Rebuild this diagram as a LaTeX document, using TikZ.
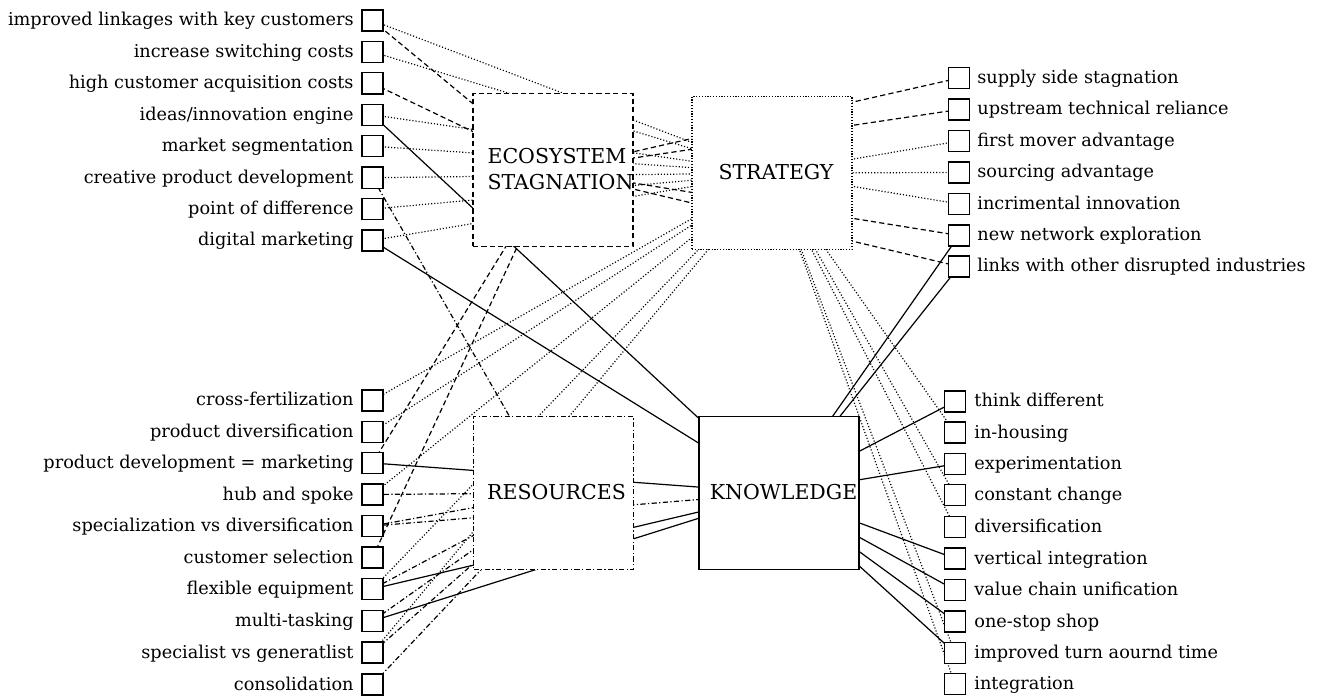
\documentclass[tikz,border=0pt]{standalone}
\usepackage{fontspec}
\setmainfont{DejaVu Serif}
\usetikzlibrary{backgrounds,calc}
\begin{document}
\begin{tikzpicture}[x=0.5pt,y=-0.5pt,
  tick/.style={draw, fill=white, line width=0.65pt, minimum size=10.6pt, inner sep=0pt},
  lbl/.style={font=\fontsize{8.85}{10}\selectfont, inner sep=0pt},
  hub/.style={draw, fill=white, line width=0.65pt, minimum width=80pt, minimum height=76.5pt, inner sep=0pt},
  hubtxt/.style={font=\fontsize{10.25}{13}\selectfont, align=left, inner sep=0pt},
  lnk/.style={line width=0.6pt},
  toS/.style={lnk, dash pattern=on 0.55pt off 1pt},
  toE/.style={lnk, dash pattern=on 2.6pt off 1.6pt},
  toR/.style={lnk, dash pattern=on 2.6pt off 1.2pt on 0.6pt off 1.2pt},
  toK/.style={lnk},
]
\useasboundingbox (0,0) rectangle (1320,699);

% ---------- the four central themes ----------
\node[hub, dash pattern=on 2.6pt off 1.6pt] (E) at (553,170) {};
\node[hub, dash pattern=on 0.6pt off 0.8pt] (S) at (772,173) {};
\node[hub, dash pattern=on 2.6pt off 1.2pt on 0.6pt off 1.2pt] (R) at (553.5,493) {};
\node[hub] (K) at (779,493) {};
\node[hubtxt] (Et) at ($(E.center)+(7.5,-1)$) {ECOSYSTEM\\STAGNATION};
\node[hubtxt] (St) at ($(S.center)+(4,-1)$) {STRATEGY};
\node[hubtxt] (Rt) at ($(R.center)+(3,-1)$) {RESOURCES};
\node[hubtxt] (Kt) at ($(K.center)+(4.5,-1)$) {KNOWLEDGE};

% ---------- upper left items ----------
\node[tick] (a1) at (372.5,20.5) {};  \node[lbl, anchor=base east] (ta1) at (354,26) {improved linkages with key customers};
\node[tick] (a2) at (372.5,51.9) {};  \node[lbl, anchor=base east] (ta2) at (354,57.4) {increase switching costs};
\node[tick] (a3) at (372.5,83.4) {};  \node[lbl, anchor=base east] (ta3) at (354,88.9) {high customer acquisition costs};
\node[tick] (a4) at (372.5,114.8) {}; \node[lbl, anchor=base east] (ta4) at (354,120.3) {ideas/innovation engine};
\node[tick] (a5) at (372.5,146.2) {}; \node[lbl, anchor=base east] (ta5) at (354,151.7) {market segmentation};
\node[tick] (a6) at (372.5,177.7) {}; \node[lbl, anchor=base east] (ta6) at (354,183.2) {creative product development};
\node[tick] (a7) at (372.5,209.1) {}; \node[lbl, anchor=base east] (ta7) at (354,214.6) {point of difference};
\node[tick] (a8) at (372.5,240.5) {}; \node[lbl, anchor=base east] (ta8) at (354,246) {digital marketing};

% ---------- lower left items ----------
\node[tick] (b1) at (372.5,400.5) {};  \node[lbl, anchor=base east] (tb1) at (354,406) {cross-fertilization};
\node[tick] (b2) at (372.5,432) {};    \node[lbl, anchor=base east] (tb2) at (354,437.5) {product diversification};
\node[tick] (b3) at (372.5,463) {};    \node[lbl, anchor=base east] (tb3) at (354,468.5) {product development = marketing};
\node[tick] (b4) at (372.5,494.5) {};  \node[lbl, anchor=base east] (tb4) at (354,500) {hub and spoke};
\node[tick] (b5) at (372.5,526) {};    \node[lbl, anchor=base east] (tb5) at (354,531.5) {specialization vs diversification};
\node[tick] (b6) at (372.5,557.5) {};  \node[lbl, anchor=base east] (tb6) at (354,563) {customer selection};
\node[tick] (b7) at (372.5,589) {};    \node[lbl, anchor=base east] (tb7) at (354,594.5) {flexible equipment};
\node[tick] (b8) at (372.5,621) {};    \node[lbl, anchor=base east] (tb8) at (354,626.5) {multi-tasking};
\node[tick] (b9) at (372.5,652.5) {};  \node[lbl, anchor=base east] (tb9) at (354,658) {specialist vs generatlist};
\node[tick] (b10) at (372.5,684.5) {}; \node[lbl, anchor=base east] (tb10) at (354,690) {consolidation};

% ---------- upper right items ----------
\node[tick] (c1) at (959,78) {};    \node[lbl, anchor=base west] (tc1) at (977,83.5) {supply side stagnation};
\node[tick] (c2) at (959,109.5) {}; \node[lbl, anchor=base west] (tc2) at (977,115) {upstream technical reliance};
\node[tick] (c3) at (959,141) {};   \node[lbl, anchor=base west] (tc3) at (977,146.5) {first mover advantage};
\node[tick] (c4) at (959,172.5) {}; \node[lbl, anchor=base west] (tc4) at (977,178) {sourcing advantage};
\node[tick] (c5) at (959,204) {};   \node[lbl, anchor=base west] (tc5) at (977,209.5) {incrimental innovation};
\node[tick] (c6) at (959,235.5) {}; \node[lbl, anchor=base west] (tc6) at (977,241) {new network exploration};
\node[tick] (c7) at (959,266.5) {}; \node[lbl, anchor=base west] (tc7) at (977,272) {links with other disrupted industries};

% ---------- lower right items ----------
\node[tick] (d1) at (955,401.5) {};  \node[lbl, anchor=base west] (td1) at (974,407) {think different};
\node[tick] (d2) at (955,432.5) {};  \node[lbl, anchor=base west] (td2) at (974,438) {in-housing};
\node[tick] (d3) at (955,464) {};    \node[lbl, anchor=base west] (td3) at (974,469.5) {experimentation};
\node[tick] (d4) at (955,495) {};    \node[lbl, anchor=base west] (td4) at (974,500.5) {constant change};
\node[tick] (d5) at (955,527) {};    \node[lbl, anchor=base west] (td5) at (974,532.5) {diversification};
\node[tick] (d6) at (955,558.5) {};  \node[lbl, anchor=base west] (td6) at (974,564) {vertical integration};
\node[tick] (d7) at (955,590) {};    \node[lbl, anchor=base west] (td7) at (974,595.5) {value chain unification};
\node[tick] (d8) at (955,621.5) {};  \node[lbl, anchor=base west] (td8) at (974,627) {one-stop shop};
\node[tick] (d9) at (955,653) {};    \node[lbl, anchor=base west] (td9) at (974,658.5) {improved turn aournd time};
\node[tick] (d10) at (955,684) {};   \node[lbl, anchor=base west] (td10) at (974,689.5) {integration};

% ---------- links, centre to centre, hidden behind the boxes ----------
\begin{pgfonlayer}{background}
  % strategy (dotted)
  \foreach \n in {a1,a2,a4,a5,a6,a7,a8,b1,b2,b4,b7,b9,c3,c4,c5,d2,d4,d5,d9,d10}
    \draw[toS] (\n.center) -- (S.center);
  % ecosystem stagnation (dashed)
  \foreach \n in {a1,a3,b3,b6,c1,c2,c6,c7}
    \draw[toE] (\n.center) -- (E.center);
  % resources (dash-dot)
  \foreach \n in {a6,b4,b5,b7,b8,b9,b10}
    \draw[toR] (\n.center) -- (R.center);
  % knowledge (solid)
  \foreach \n in {a4,a8,b3,b7,b8,c6,c7,d1,d3,d6,d7,d8,d9}
    \draw[toK] (\n.center) -- (K.center);
  \draw[toR] (b5.center) -- (K.center);
\end{pgfonlayer}
\end{tikzpicture}
\end{document}
